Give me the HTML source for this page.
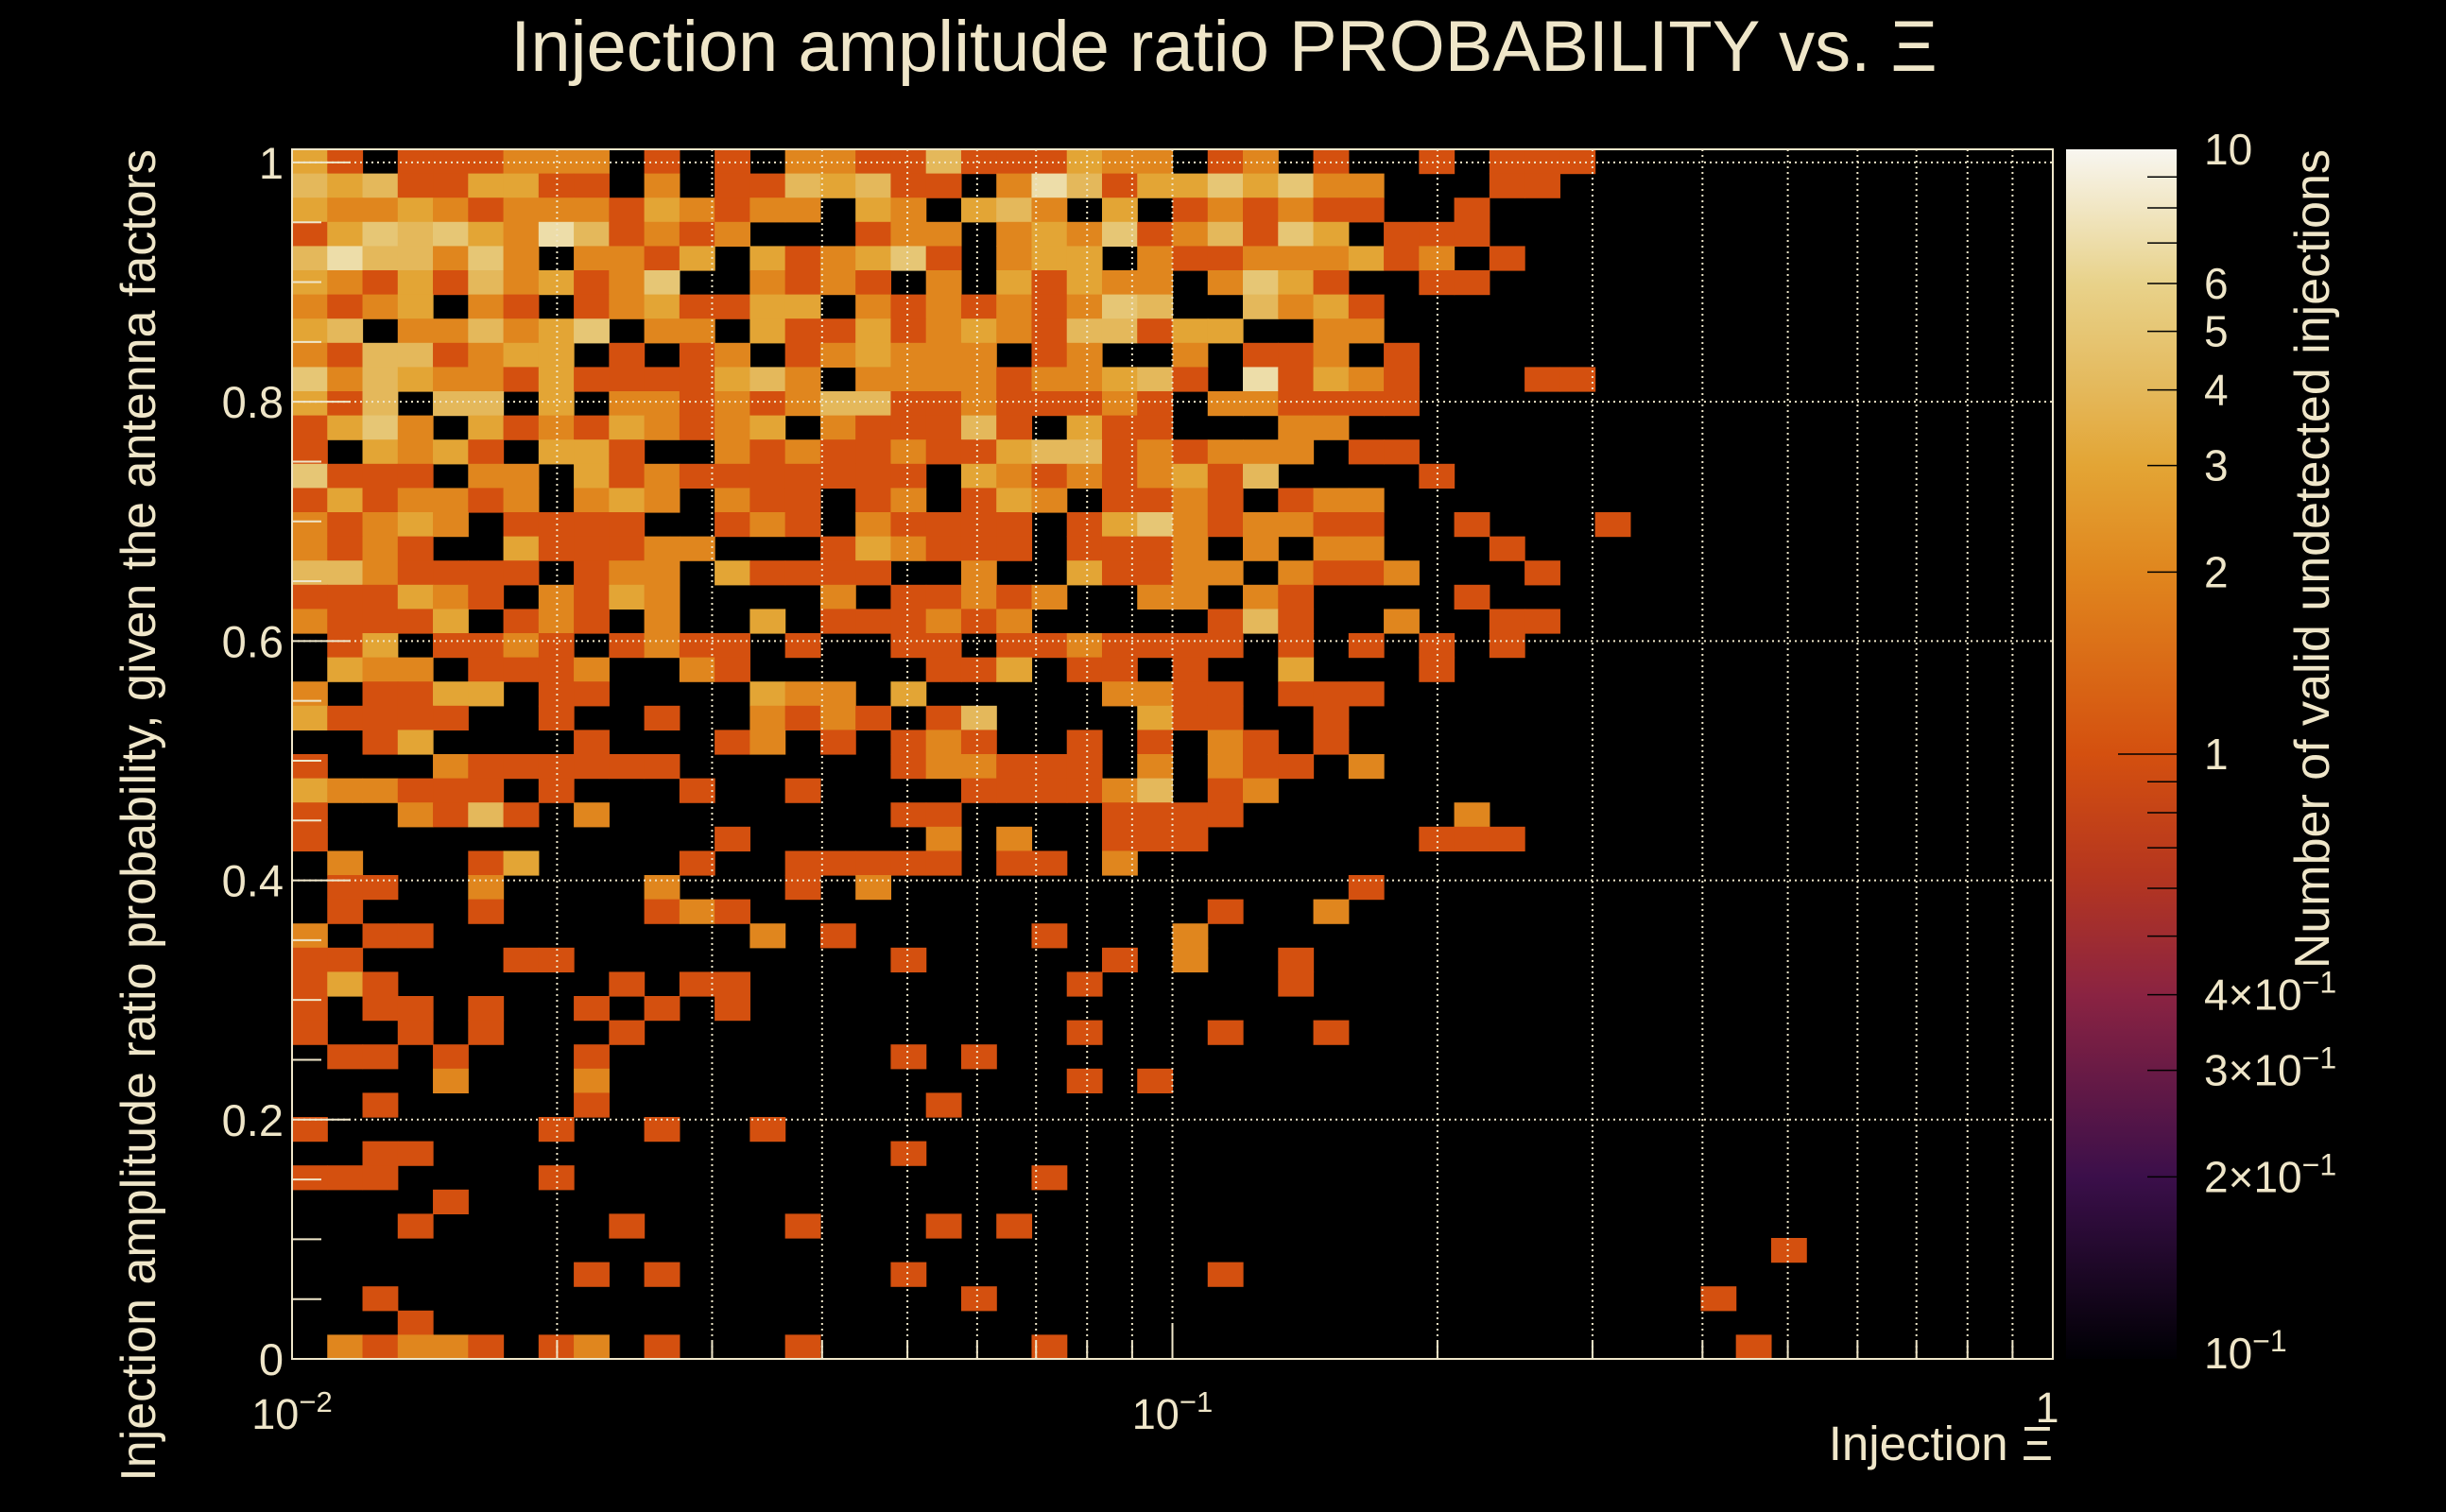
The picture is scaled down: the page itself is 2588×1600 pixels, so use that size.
<!DOCTYPE html>
<html><head><meta charset="utf-8"><style>
html,body{margin:0;padding:0;background:#000;}
svg{display:block;font-family:"Liberation Sans",sans-serif;}
</style></head><body>
<svg id="chart" width="2588" height="1600" viewBox="0 0 2588 1600" xmlns="http://www.w3.org/2000/svg">
<rect x="0" y="0" width="2588" height="1600" fill="#000"/>
<defs>
<linearGradient id="cbgrad" x1="0" y1="1" x2="0" y2="0">
<stop offset="0" stop-color="#000004"/>
<stop offset="0.15" stop-color="#3b0f4a"/>
<stop offset="0.3" stop-color="#8a2342"/>
<stop offset="0.4" stop-color="#b5361f"/>
<stop offset="0.5" stop-color="#d4500f"/>
<stop offset="0.65" stop-color="#e0861e"/>
<stop offset="0.739" stop-color="#e3a535"/>
<stop offset="0.8" stop-color="#e4b85a"/>
<stop offset="0.889" stop-color="#e8d28a"/>
<stop offset="1" stop-color="#f8f6f0"/>
</linearGradient>
</defs>
<g id="cells"></g>
<g id="grid"></g>
<g id="axes"></g>
<text x="1295" y="75" text-anchor="middle" font-size="76" fill="#efe6c9">Injection amplitude ratio PROBABILITY vs.  Ξ</text>
<text x="2172" y="1545" text-anchor="end" font-size="51" fill="#efe6c9">Injection Ξ</text>
<text transform="translate(164,158) rotate(-90)" text-anchor="end" font-size="52" fill="#efe6c9">Injection amplitude ratio probability, given the antenna factors</text>
<rect x="2186" y="158" width="117" height="1280" fill="url(#cbgrad)"/>
<g id="cbaxis"></g>
<text transform="translate(2464,158) rotate(-90)" text-anchor="end" font-size="52" fill="#efe6c9">Number of valid undetected injections</text>
</svg>
<script>
// Counts per bin, top row (highest y) first; 50 log-x bins from 1e-2 to 1
const countRows = [
"31011122201010221141"+"11322012010010111000"+"0000000000",
"43411331102011434110"+"27413353522000110000"+"0000000000",
"32232122213212203203"+"42030121211001000000"+"0000000000",
"13545327412120001220"+"23251241530111000000"+"0000000000",
"47442520221303123510"+"23302112223120100000"+"0000000000",
"32131423125002121020"+"31322025310011000000"+"0000000000",
"21230210123113302121"+"21254004231000000000"+"0000000000",
"34022423502203113123"+"21441330022000000000"+"0000000000",
"21441233010120123222"+"01200201120100000000"+"0000000000",
"52432213111134202222"+"12234107132100011000"+"0000000000",
"31404403022121244112"+"11121022111100000000"+"0000000000",
"13520312132123021114"+"10311000220000000000"+"0000000000",
"10323103310021211211"+"34412122201100000000"+"0000000000",
"51110220312111111103"+"21212314000010000000"+"0000000000",
"13122120232021101201"+"32011210122000000000"+"0000000000",
"21232011110012102111"+"10135212211001000100"+"0000000000",
"21210031112200013211"+"10111202022000100000"+"0000000000",
"44211110122031111002"+"00311220211200010000"+"0000000000",
"11132102132000020112"+"12002202100001000000"+"0000000000",
"21113012102003011121"+"20000014100200110000"+"0000000000",
"01301121012110100110"+"11211110101010100000"+"0000000000",
"03220111200210000011"+"30110100300010000000"+"0000000000",
"20113301100003220300"+"00022110111000000000"+"0000000000",
"31111001001002121014"+"00003110010000000000"+"0000000000",
"00130000100012010121"+"00101021010000000000"+"0000000000",
"10002111111000000122"+"11102021102000000000"+"0000000000",
"32211101000100100001"+"11124012000000000000"+"0000000000",
"10021410200000000110"+"00011110000002000000"+"0000000000",
"10000000000010000020"+"20011100000011100000"+"0000000000",
"02000130000100111110"+"11020000000000000000"+"0000000000",
"01100200002000102000"+"00000000001000000000"+"0000000000",
"01000100001210000000"+"00000010020000000000"+"0000000000",
"20110000000002010000"+"01000200000000000000"+"0000000000",
"11000011000000000100"+"00010200100000000000"+"0000000000",
"13100000010110000000"+"00100000100000000000"+"0000000000",
"10110100101010000000"+"00000000000000000000"+"0000000000",
"10010100010000000000"+"00100010010000000000"+"0000000000",
"01101000100000000101"+"00000000000000000000"+"0000000000",
"00002000200000000000"+"00101000000000000000"+"0000000000",
"00100000100000000010"+"00000000000000000000"+"0000000000",
"10000001001001000000"+"00000000000000000000"+"0000000000",
"00110000000000000100"+"00000000000000000000"+"0000000000",
"11100001000000000000"+"01000000000000000000"+"0000000000",
"00001000000000000000"+"00000000000000000000"+"0000000000",
"00010000010000100010"+"10000000000000000000"+"0000000000",
"00000000000000000000"+"00000000000000000000"+"0010000000",
"00000000101000000100"+"00000010000000000000"+"0000000000",
"00100000000000000001"+"00000000000000000000"+"1000000000",
"00010000000000000000"+"00000000000000000000"+"0000000000",
"02122101201000100000"+"01000000000000000000"+"0100000000"
];
const yTickValues = [0, 0.2, 0.4, 0.6, 0.8, 1];
const yTickLabels = ["0", "0.2", "0.4", "0.6", "0.8", "1"];
const xTickExps = [-2, -1, 0];
const zTickValues = [0.2, 0.3, 0.4, 1, 2, 3, 4, 5, 6, 10];
const zTickLabels = ["2×10⁻¹", "3×10⁻¹", "4×10⁻¹", "1", "2", "3", "4", "5", "6", "10"];

const NS = "http://www.w3.org/2000/svg";
const X0 = 309, X1 = 2172, Y0 = 158, Y1 = 1438;
const XMIN = -2, XMAX = 0, YMAX = 1.011, NBX = 50, NBY = 50;
const CB_X1 = 2303;
const INK = "#efe6c9";
function xPos(v){ return X0 + (Math.log10(v) - XMIN) / (XMAX - XMIN) * (X1 - X0); }
function yPos(v){ return Y1 - v / YMAX * (Y1 - Y0); }
function zPos(z){ return Y1 - (Math.log10(z) + 1) / 2 * (Y1 - Y0); }
const stops = [[0,[0,0,4]],[0.15,[59,15,74]],[0.3,[138,35,66]],[0.4,[181,54,31]],[0.5,[212,80,15]],[0.65,[224,134,30]],[0.739,[227,165,53]],[0.8,[228,184,90]],[0.889,[232,210,138]],[1,[248,246,240]]];
function colorFor(z){
  let t = (Math.log10(z) + 1) / 2; t = Math.max(0, Math.min(1, t));
  for (let i = 1; i < stops.length; i++){
    if (t <= stops[i][0]){
      const a = stops[i-1], b = stops[i], f = (t - a[0]) / (b[0] - a[0]);
      const c = a[1].map((v, k) => Math.round(v + (b[1][k] - v) * f));
      return "rgb(" + c.join(",") + ")";
    }
  }
  return "rgb(248,246,240)";
}
function mk(tag, attrs, parent){
  const el = document.createElementNS(NS, tag);
  for (const k in attrs) el.setAttribute(k, attrs[k]);
  parent.appendChild(el); return el;
}
const cells = document.getElementById("cells");
for (let r = 0; r < countRows.length; r++){
  const row = countRows[r];
  const bottomIdx = NBY - 1 - r;
  const yb = yPos(bottomIdx * YMAX / NBY), yt = yPos((bottomIdx + 1) * YMAX / NBY);
  for (let c = 0; c < row.length; c++){
    const n = parseInt(row[c], 10);
    if (!n) continue;
    const xl = xPos(Math.pow(10, XMIN + c * (XMAX - XMIN) / NBX));
    const xr = xPos(Math.pow(10, XMIN + (c + 1) * (XMAX - XMIN) / NBX));
    const el = mk("rect", {x: xl.toFixed(2), y: yt.toFixed(2), width: (xr - xl + 0.6).toFixed(2), height: (yb - yt + 0.6).toFixed(2), fill: colorFor(n)}, cells);
    
    
  }
}
const grid = document.getElementById("grid");
const axes = document.getElementById("axes");
for (let e = XMIN; e < XMAX; e++){
  for (let m = 1; m <= 9; m++){
    const x = xPos(m * Math.pow(10, e));
    if (m > 1 || e > XMIN){
      const g = mk("line", {x1: x, y1: Y0, x2: x, y2: Y1, stroke: INK, "stroke-width": 2, "stroke-dasharray": "2 4"}, grid);
      
      
    }
    const len = m === 1 ? 36 : 18;
    const t1 = mk("line", {x1: x, y1: Y1, x2: x, y2: Y1 - len, stroke: INK, "stroke-width": 2}, axes);
    
    
  }
}
for (let i = 0; i < yTickValues.length; i++){
  const y = yPos(yTickValues[i]);
  if (yTickValues[i] > 0){
    const g = mk("line", {x1: X0, y1: y, x2: X1, y2: y, stroke: INK, "stroke-width": 2, "stroke-dasharray": "2 4"}, grid);
    
    
  }
  const lab = mk("text", {x: 300, y: y + 17, "text-anchor": "end", "font-size": 47, fill: INK}, axes);
  lab.textContent = yTickLabels[i];
  
  
}
for (let k = 0; k <= 20; k++){
  const y = yPos(k * 0.05);
  const len = k % 4 === 0 ? 62 : 31;
  const t1 = mk("line", {x1: X0, y1: y, x2: X0 + len, y2: y, stroke: INK, "stroke-width": 2}, axes);
  
  
}
for (let i = 0; i < xTickExps.length; i++){
  const e = xTickExps[i];
  const x = xPos(Math.pow(10, e));
  const lab = mk("text", {x: x, y: 1512, "text-anchor": "middle", "font-size": 45, fill: INK}, axes);
  
  
  if (e === 0){ lab.textContent = "1"; lab.setAttribute("y", 1505); lab.setAttribute("x", x - 6); }
  else {
    const t1 = document.createElementNS(NS, "tspan"); t1.textContent = "10"; lab.appendChild(t1);
    const t2 = document.createElementNS(NS, "tspan"); t2.textContent = "−" + Math.abs(e);
    t2.setAttribute("dy", -18); t2.setAttribute("font-size", 31); lab.appendChild(t2);
  }
}
const frame = mk("rect", {x: X0, y: Y0, width: X1 - X0, height: Y1 - Y0, fill: "none", stroke: INK, "stroke-width": 2}, axes);


const cb = document.getElementById("cbaxis");
const minorZ = [0.2,0.3,0.4,0.5,0.6,0.7,0.8,0.9,1,2,3,4,5,6,7,8,9];
for (let i = 0; i < minorZ.length; i++){
  const y = zPos(minorZ[i]);
  const len = minorZ[i] === 1 ? 62 : 31;
  const t = mk("line", {x1: CB_X1, y1: y, x2: CB_X1 - len, y2: y, stroke: "#000", "stroke-width": 1.5}, cb);
  
  
}
function cbLabel(txt, y){
  const lab = mk("text", {x: 2332, y: y + 16, "font-size": 46, fill: INK}, cb);
  
  
  const m = txt.match(/^(.*)10⁻¹$/);
  if (m){
    const a = document.createElementNS(NS, "tspan"); a.textContent = m[1] + "10"; lab.appendChild(a);
    const b = document.createElementNS(NS, "tspan"); b.textContent = "−1"; b.setAttribute("dy", -18); b.setAttribute("font-size", 32); lab.appendChild(b);
  } else lab.textContent = txt;
}
for (let i = 0; i < zTickValues.length; i++) cbLabel(zTickLabels[i], zPos(zTickValues[i]));
cbLabel("10⁻¹", zPos(0.1) - 6);
</script>
</body></html>
